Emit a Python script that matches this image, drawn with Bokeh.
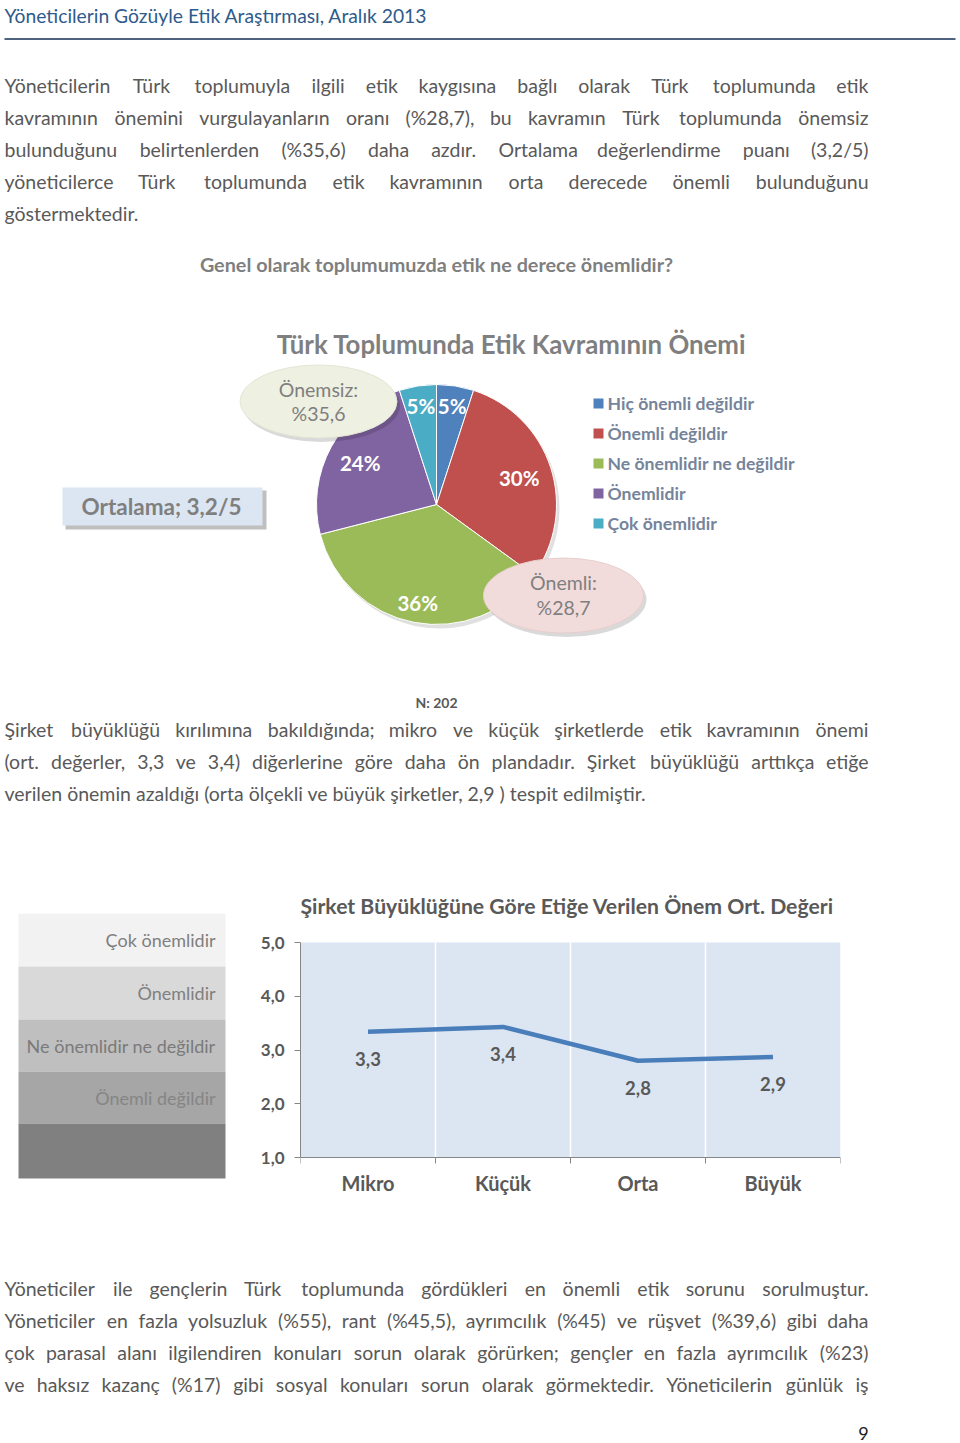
import math
from bokeh.plotting import figure
from bokeh.models import Range1d, FixedTicker, CustomJSTickFormatter
from bokeh.layouts import column, row
from bokeh.embed import file_html
from bokeh.resources import INLINE
from bokeh.core.properties import value

# ---------------- data ----------------
header_text = "Yöneticilerin Gözüyle Etik Araştırması, Aralık 2013"

para1 = [
    "Yöneticilerin Türk toplumuyla ilgili etik kaygısına bağlı olarak Türk toplumunda etik",
    "kavramının önemini vurgulayanların oranı (%28,7), bu kavramın Türk toplumunda önemsiz",
    "bulunduğunu belirtenlerden (%35,6) daha azdır. Ortalama değerlendirme puanı (3,2/5)",
    "yöneticilerce Türk toplumunda etik kavramının orta derecede önemli bulunduğunu",
    "göstermektedir.",
]
para1_just = [True, True, True, True, False]

question = "Genel olarak toplumumuzda etik ne derece önemlidir?"
pie_title = "Türk Toplumunda Etik Kavramının Önemi"
pie_labels = ["Hiç önemli değildir", "Önemli değildir", "Ne önemlidir ne değildir",
              "Önemlidir", "Çok önemlidir"]
pie_values = [5, 30, 36, 24, 5]
pie_colors = ["#4f81bd", "#c0504d", "#9bbb59", "#8064a2", "#4bacc6"]
callout_unimportant = ["Önemsiz:", "%35,6"]
callout_important = ["Önemli:", "%28,7"]
average_text = "Ortalama; 3,2/5"
n_text = "N: 202"

para2 = [
    "Şirket büyüklüğü kırılımına bakıldığında; mikro ve küçük şirketlerde etik kavramının önemi",
    "(ort. değerler, 3,3 ve 3,4) diğerlerine göre daha ön plandadır. Şirket büyüklüğü arttıkça etiğe",
    "verilen önemin azaldığı (orta ölçekli ve büyük şirketler, 2,9 ) tespit edilmiştir.",
]
para2_just = [True, True, False]

line_title = "Şirket Büyüklüğüne Göre Etiğe Verilen Önem Ort. Değeri"
size_categories = ["Mikro", "Küçük", "Orta", "Büyük"]
size_means = [3.34, 3.43, 2.80, 2.87]
y_ticks = [1, 2, 3, 4, 5]
scale_labels = ["Çok önemlidir", "Önemlidir", "Ne önemlidir ne değildir", "Önemli değildir", ""]
scale_colors = ["#f2f2f2", "#d9d9d9", "#bfbfbf", "#a6a6a6", "#808080"]
scale_text_colors = ["#7f7f7f", "#7f7f7f", "#7a7a7a", "#858585", "#808080"]

para3 = [
    "Yöneticiler ile gençlerin Türk toplumunda gördükleri en önemli etik sorunu sorulmuştur.",
    "Yöneticiler en fazla yolsuzluk (%55), rant (%45,5), ayrımcılık (%45) ve rüşvet (%39,6) gibi daha",
    "çok parasal alanı ilgilendiren konuları sorun olarak görürken; gençler en fazla ayrımcılık (%23)",
    "ve haksız kazanç (%17) gibi sosyal konuları sorun olarak görmektedir. Yöneticilerin günlük iş",
]
para3_just = [True, True, True, True]
page_number = "9"

# ---------------- style ----------------
FONT = "Lato"
BODY = "#595959"
GRAY = "#7f7f7f"
LEFT, RIGHT = 4, 868
BODY_FS = 19.5

W = {' ': 0.193, 'a': 0.49, 'b': 0.56, 'c': 0.46, 'ç': 0.46, 'd': 0.56, 'e': 0.52, 'f': 0.32,
     'g': 0.51, 'ğ': 0.51, 'h': 0.56, 'i': 0.24, 'ı': 0.24, 'j': 0.24, 'k': 0.51, 'l': 0.24,
     'm': 0.84, 'n': 0.56, 'o': 0.56, 'ö': 0.56, 'p': 0.56, 'r': 0.37, 's': 0.43, 'ş': 0.43,
     't': 0.35, 'u': 0.56, 'ü': 0.56, 'v': 0.51, 'y': 0.51, 'z': 0.46, 'w': 0.77,
     '%': 0.78, '(': 0.29, ')': 0.29, ',': 0.2, '.': 0.2, '/': 0.38, ';': 0.22, ':': 0.22}


def est(s, fs):
    t = 0.0
    for ch in s:
        if ch in W:
            t += W[ch]
        elif ch.isdigit():
            t += 0.58
        elif ch.isupper():
            t += 0.64
        else:
            t += 0.55
    return t * fs


def page_fig(h, y0, w=960, x0=0, **kw):
    p = figure(width=w, height=h, x_range=Range1d(x0, x0 + w), y_range=Range1d(y0 + h, y0),
               x_axis_location=None, y_axis_location=None, toolbar_location=None,
               output_backend="svg", **kw)
    p.grid.visible = False
    p.outline_line_color = None
    p.background_fill_color = "white"
    p.border_fill_color = "white"
    return p


def txt(p, x, y, t, fs, color=BODY, align="left", bold=False, **kw):
    if isinstance(t, str):
        x, y, t = [x], [y], [t]
    p.text(x=x, y=y, text=t, text_align=align, text_baseline="middle",
           text_font=value(FONT), text_font_size=f"{fs}px", text_color=color,
           text_font_style="bold" if bold else "normal", **kw)


def paragraph(p, lines, just, ys, fs=BODY_FS):
    xl, yl, tl, xr, yr, tr = [], [], [], [], [], []
    for line, j, y in zip(lines, just, ys):
        if not j:
            xl.append(LEFT); yl.append(y); tl.append(line)
            continue
        words = line.split(" ")
        ws = [est(w_, fs) for w_ in words]
        gap = (RIGHT - LEFT - sum(ws)) / (len(words) - 1)
        x = LEFT
        for w_, wd in zip(words[:-1], ws[:-1]):
            xl.append(x); yl.append(y); tl.append(w_)
            x += wd + gap
        xr.append(RIGHT); yr.append(y); tr.append(words[-1])
    txt(p, xl, yl, tl, fs)
    if tr:
        txt(p, xr, yr, tr, fs, align="right")


# ---------------- top section (page y 0..870) ----------------
top = page_fig(870, 0, min_border=0)
txt(top, 4, 15, header_text, 19.3, color="#2e5b8a")
top.segment(x0=[4], y0=[38.5], x1=[955], y1=[38.5], line_color="#4f6280", line_width=2)
paragraph(top, para1, para1_just, [85, 117, 149, 181, 213])
txt(top, 436, 263, question, 19.8, color=GRAY, align="center", bold=True)
txt(top, 511, 343, pie_title, 25.8, color=GRAY, align="center", bold=True)

PX, PY, PR = 436, 504, 120
total = float(sum(pie_values))
cum = [0.0]
for v in pie_values:
    cum.append(cum[-1] + v / total)
starts = [math.pi / 2 - 2 * math.pi * cum[i] for i in range(len(pie_values))]
ends = [math.pi / 2 - 2 * math.pi * cum[i + 1] for i in range(len(pie_values))]
top.circle(x=[PX + 3], y=[PY + 4], radius=PR, fill_color="#000000", fill_alpha=0.12, line_color=None)
top.wedge(x=PX, y=PY, radius=PR, start_angle=starts, end_angle=ends, direction="clock",
          fill_color=pie_colors, line_color="white", line_width=1)
lab_r = [100, 87, 100, 87, 100]
lx, ly, lt = [], [], []
for i, v in enumerate(pie_values):
    a = 2 * math.pi * (cum[i] + v / total / 2)
    lx.append(PX + lab_r[i] * math.sin(a))
    ly.append(PY - lab_r[i] * math.cos(a))
    lt.append(f"{v}%")
txt(top, lx, ly, lt, 20.5, color="white", align="center", bold=True)

# callouts
top.ellipse(x=[321, 566], y=[405, 599], width=[157, 160], height=[73, 75],
            fill_color="#000000", fill_alpha=0.15, line_color=None)
top.ellipse(x=[318], y=[401], width=[157], height=[73], fill_color="#eef0e2", line_color="#e3e6d3")
top.ellipse(x=[563], y=[595], width=[160], height=[75], fill_color="#f2dcdb", line_color="#e8cfce")
txt(top, [318, 318], [389, 413], callout_unimportant, 19.5, color=GRAY, align="center")
txt(top, [563, 563], [582, 607], callout_important, 19.5, color=GRAY, align="center")

top.quad(left=[65], right=[266], top=[490], bottom=[529], fill_color="#7f7f7f", fill_alpha=0.5, line_color=None)
top.quad(left=[62], right=[262], top=[487], bottom=[525], fill_color="#dce6f2", line_color=None)
txt(top, 161, 506, average_text, 22.5, color=GRAY, align="center", bold=True)

# legend
leg_y = [403 + 30 * i for i in range(len(pie_labels))]
top.rect(x=[598] * len(pie_labels), y=leg_y, width=10, height=10, fill_color=pie_colors, line_color=None)
txt(top, [607] * len(pie_labels), leg_y, pie_labels, 17.6, color="#75849a", bold=True)

txt(top, 436, 702, n_text, 14, color=BODY, align="center", bold=True)
paragraph(top, para2, para2_just, [729, 761, 793])

# ---------------- middle section (page y 870..1230) ----------------
# frames of both panels span page y 913..1200
F_TOP, F_BOT = 913, 1200
B_TOP, B_BOT = F_TOP - 870, 1230 - F_BOT
left = page_fig(360, 870, w=230, min_border_left=0, min_border_right=0,
                min_border_top=B_TOP, min_border_bottom=B_BOT)
left.y_range = Range1d(F_BOT, F_TOP)
edges = [913, 966, 1019, 1071, 1123, 1178]
left.quad(left=[18] * 5, right=[225] * 5, top=edges[:-1], bottom=edges[1:],
          fill_color=scale_colors, line_color=None)
mids = [(edges[i] + edges[i + 1]) / 2 for i in range(5)]
txt(left, [215] * 5, mids, scale_labels, 18, color=scale_text_colors, align="right")

# value scale: 1..5 spans page y 1157..942
PPU = (1157 - 942) / (y_ticks[-1] - y_ticks[0])
y_lo = y_ticks[0] - (F_BOT - 1157) / PPU
y_hi = y_ticks[-1] + (942 - F_TOP) / PPU

n = len(size_categories)
lc = figure(width=730, height=360, x_range=Range1d(0, n), y_range=Range1d(y_lo, y_hi),
            toolbar_location=None, output_backend="svg",
            min_border_left=70, min_border_right=120, min_border_top=B_TOP, min_border_bottom=B_BOT)
lc.background_fill_color = "white"
lc.border_fill_color = "white"
lc.outline_line_color = None
lc.grid.visible = False
lc.title.text = line_title
lc.title.align = "left"
lc.title.text_font = FONT
lc.title.text_font_size = "21.2px"
lc.title.text_font_style = "bold"
lc.title.text_color = BODY
lc.title.standoff = -10

# plot area and category separators
lc.quad(left=[0], right=[n], bottom=[y_ticks[0]], top=[y_ticks[-1]], fill_color="#dce6f2", line_color=None)
lc.segment(x0=list(range(1, n)), x1=list(range(1, n)), y0=[y_ticks[0]] * (n - 1),
           y1=[y_ticks[-1]] * (n - 1), line_color="white", line_width=1.5)

lc.yaxis.ticker = FixedTicker(ticks=y_ticks)
lc.yaxis.bounds = (y_ticks[0], y_ticks[-1])
lc.yaxis.formatter = CustomJSTickFormatter(code="return tick.toFixed(1).replace('.', ',');")
lc.yaxis.major_tick_in = 0
lc.yaxis.major_tick_out = 6
lc.yaxis.minor_tick_line_color = None
lc.yaxis.axis_line_color = "#868686"
lc.yaxis.major_tick_line_color = "#868686"
lc.yaxis.major_label_text_font = FONT
lc.yaxis.major_label_text_font_size = "17px"
lc.yaxis.major_label_text_font_style = "bold"
lc.yaxis.major_label_text_color = BODY
lc.yaxis.major_label_standoff = 10

xc = [i + 0.5 for i in range(n)]
lc.xaxis.fixed_location = y_ticks[0]
lc.xaxis.ticker = FixedTicker(ticks=xc, minor_ticks=list(range(n + 1)))
lc.xaxis.formatter = CustomJSTickFormatter(args=dict(cats=size_categories),
                                           code="return cats[Math.floor(tick)];")
lc.xaxis.major_tick_line_color = None
lc.xaxis.major_tick_out = 0
lc.xaxis.major_tick_in = 0
lc.xaxis.minor_tick_out = 6
lc.xaxis.minor_tick_in = 0
lc.xaxis.minor_tick_line_color = "#868686"
lc.xaxis.axis_line_color = "#868686"
lc.xaxis.major_label_text_font = FONT
lc.xaxis.major_label_text_font_size = "20px"
lc.xaxis.major_label_text_font_style = "bold"
lc.xaxis.major_label_text_color = BODY
lc.xaxis.major_label_standoff = 7

lc.line(x=xc, y=size_means, line_color="#4a7ebb", line_width=4.5)
txt(lc, xc, size_means, [f"{v:.1f}".replace(".", ",") for v in size_means], 18.5,
    color=BODY, align="center", bold=True, y_offset=27)

# ---------------- bottom section (page y 1230..1443) ----------------
bot = page_fig(213, 1230, min_border=0)
paragraph(bot, para3, para3_just, [1288, 1320, 1352, 1384])
txt(bot, 863, 1433, page_number, 18, color="#222222", align="center")

page = column(top, row(left, lc), bot)
open("out.html", "w").write(file_html(page, INLINE))
